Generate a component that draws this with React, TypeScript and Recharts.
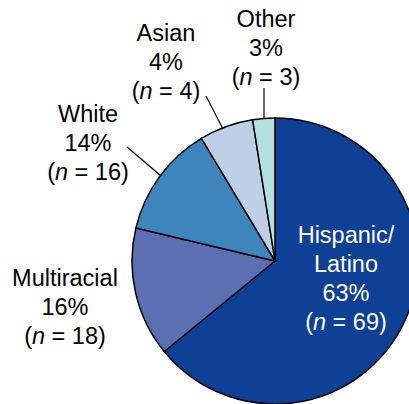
import { Cell, Pie, PieChart } from 'recharts';

const groups = ['Hispanic/Latino', 'Multiracial', 'White', 'Asian', 'Other'];
const counts = [69, 18, 16, 4, 3];
const percents = [63, 16, 14, 4, 3];
// slice sizes as drawn in the reference (share of the circle, %)
const sliceShares = [64.1, 14.6, 12.7, 6.1, 2.5];
const nameLines = [['Hispanic/', 'Latino'], ['Multiracial'], ['White'], ['Asian'], ['Other']];

const colors = ['#0e4196', '#5b6fb2', '#3e85bb', '#bdd0e7', '#b2e1e0'];

// label placement relative to the pie centre
const labelLayout = [
    { dx: 71, dy: -18, fill: '#ffffff', leader: null },
    { dx: -210, dy: 25, fill: '#000000', leader: null },
    { dx: -187, dy: -139, fill: '#000000', leader: [-148, -114, -115, -86] },
    { dx: -109, dy: -220, fill: '#000000', leader: [-69, -165, -52, -132] },
    { dx: -9, dy: -234, fill: '#000000', leader: [-11, -173, -11, -142] },
];

const chartData = groups.map((g, i) => ({
    name: g,
    value: sliceShares[i],
    n: counts[i],
    pct: percents[i],
    lines: nameLines[i],
}));

const LINE_H = 29;

function renderLabel(props: any) {
    const { cx, cy, index } = props;
    const d = chartData[index];
    const lay = labelLayout[index];
    const x = cx + lay.dx;
    const y0 = cy + lay.dy;
    const rows = [...d.lines, `${d.pct}%`];
    return (
        <g>
            {lay.leader && (
                <line
                    x1={cx + lay.leader[0]}
                    y1={cy + lay.leader[1]}
                    x2={cx + lay.leader[2]}
                    y2={cy + lay.leader[3]}
                    stroke="#000"
                    strokeWidth={1.2}
                />
            )}
            <text
                x={x}
                y={y0}
                textAnchor="middle"
                fill={lay.fill}
                fontSize={23.5}
                fontFamily="'Liberation Sans', Arial, sans-serif"
            >
                {rows.map((r, i) => (
                    <tspan key={i} x={x} y={y0 + i * LINE_H}>
                        {r}
                    </tspan>
                ))}
                <tspan x={x} y={y0 + rows.length * LINE_H}>
                    (<tspan fontStyle="italic">n</tspan> = {d.n})
                </tspan>
            </text>
        </g>
    );
}

export default function App() {
    return (
        <div style={{ position: 'absolute', left: 0, top: 0, background: '#fff' }}>
            <PieChart width={409} height={404} margin={{ top: 0, right: 0, bottom: 0, left: 0 }}>
                <Pie
                    data={chartData}
                    dataKey="value"
                    nameKey="name"
                    cx={275}
                    cy={261}
                    outerRadius={143}
                    startAngle={90}
                    endAngle={-270}
                    stroke="#000"
                    strokeWidth={1.5}
                    label={renderLabel}
                    labelLine={false}
                    isAnimationActive={false}
                >
                    {chartData.map((d, i) => (
                        <Cell key={d.name} fill={colors[i]} />
                    ))}
                </Pie>
            </PieChart>
        </div>
    );
}
